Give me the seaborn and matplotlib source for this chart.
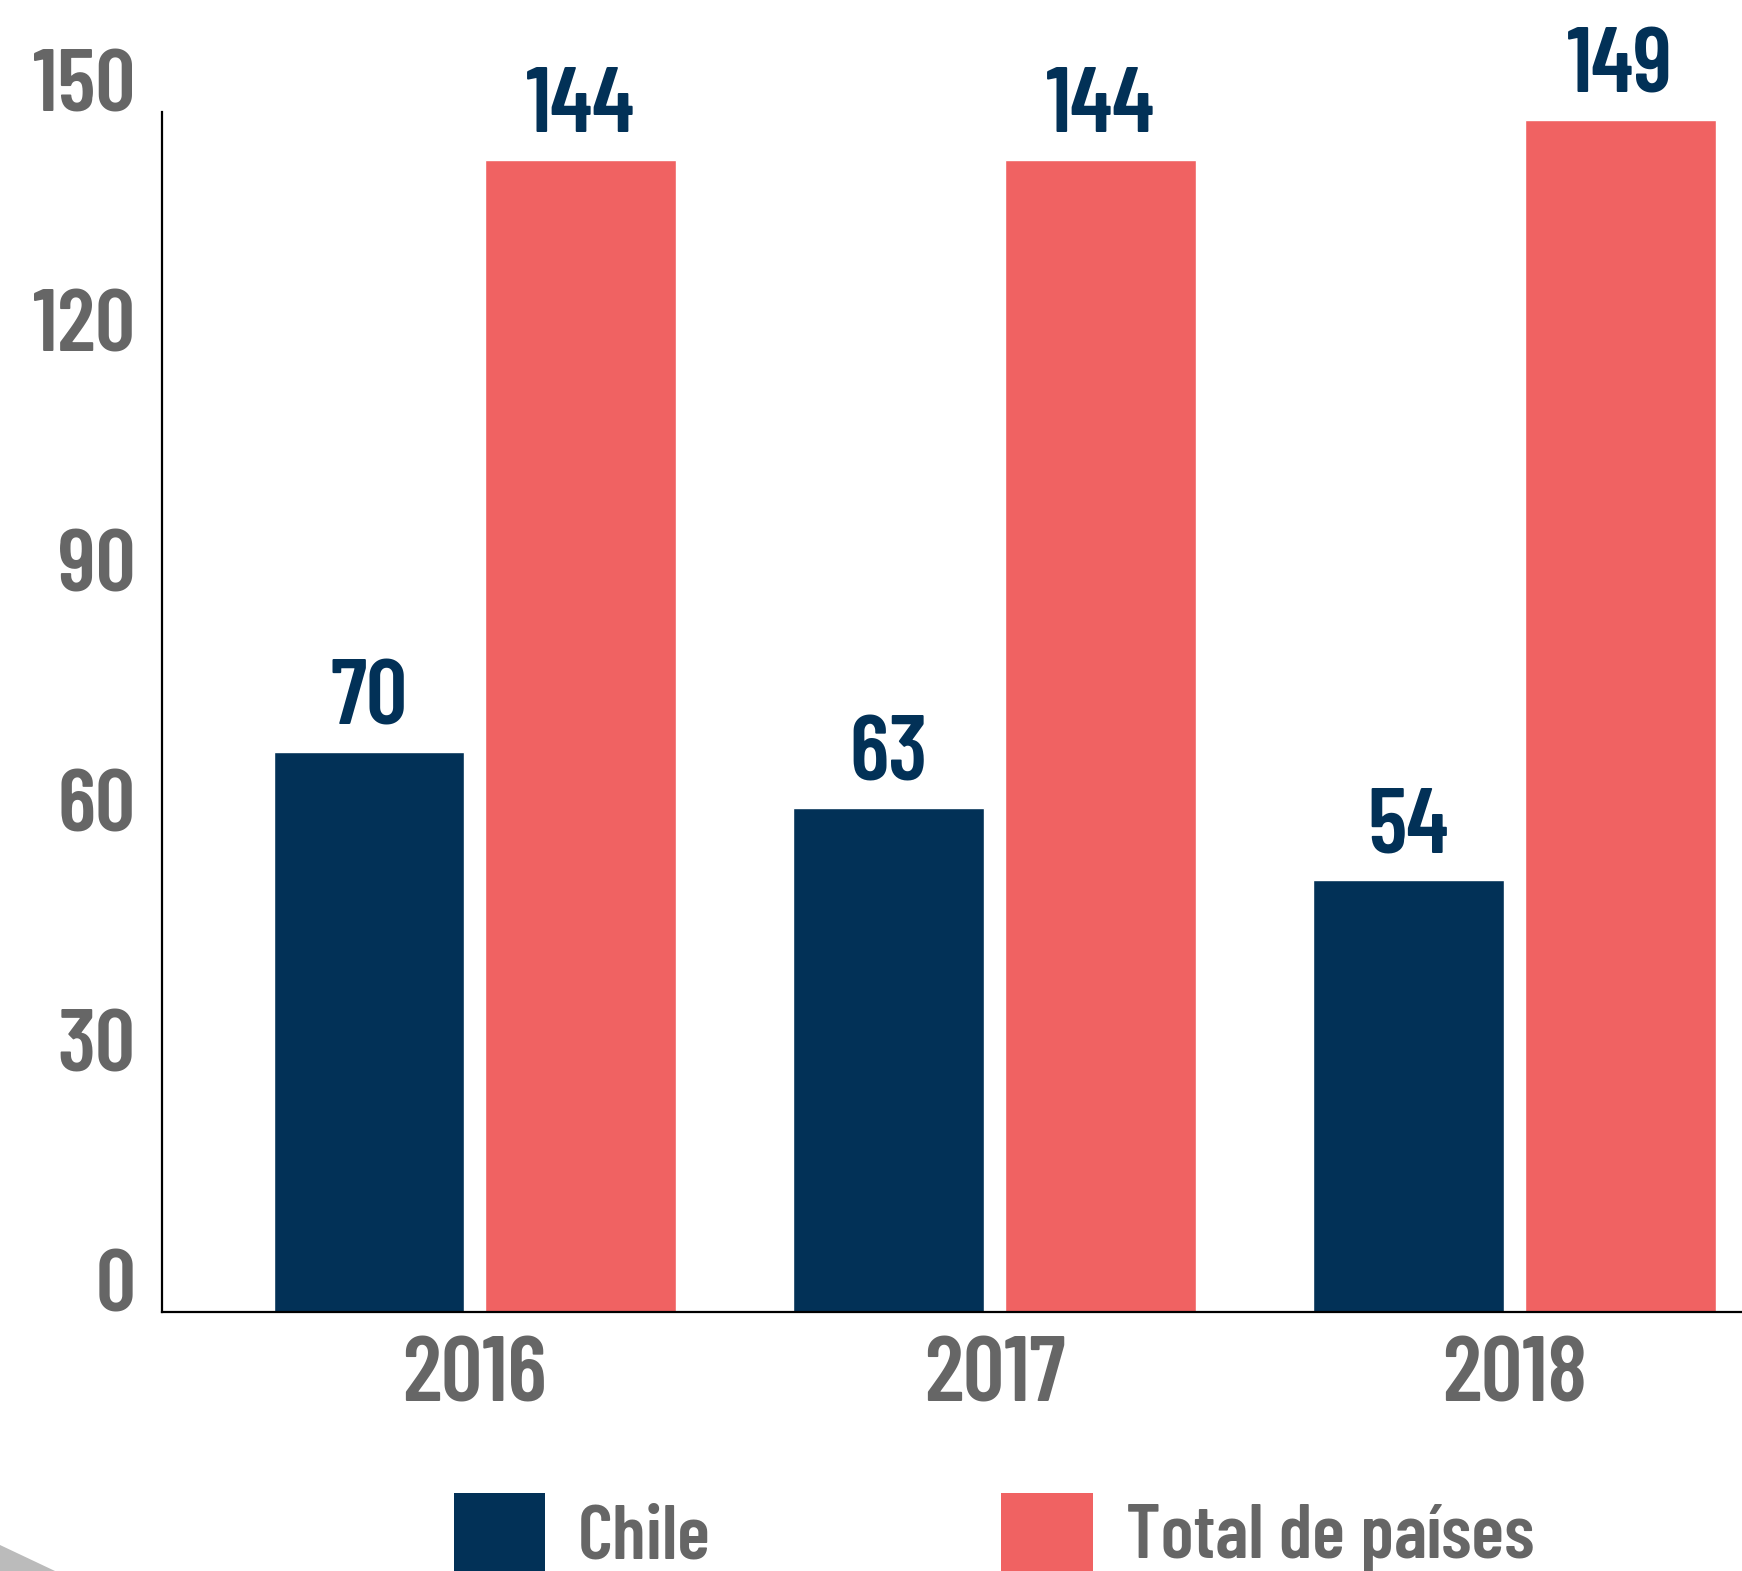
import numpy as np
import pandas as pd
import matplotlib
matplotlib.use("Agg")
import matplotlib.pyplot as plt
from matplotlib.patches import Patch, Polygon
import seaborn as sns

# --- data ---
years = ["2016", "2017", "2018"]
chile = [70, 63, 54]
total = [144, 144, 149]
series_names = ["Chile", "Total de países"]
yticks = [0, 30, 60, 90, 120, 150]

NAVY = "#023157"
RED = "#F06262"
GREY = "#666666"

df = pd.DataFrame({
    "year": years * 2,
    "value": chile + total,
    "serie": [series_names[0]] * 3 + [series_names[1]] * 3,
})

sns.set_theme(style="white")
plt.rcParams["font.family"] = ["Barlow Condensed", "Oswald", "DejaVu Sans"]
plt.rcParams["font.weight"] = 600

fig = plt.figure(figsize=(17.42, 15.71), dpi=100)
ax = fig.add_axes([162/1742, 1 - 1312/1571, 1 - 162/1742, 1312/1571])

sns.barplot(data=df, x="year", y="value", hue="serie", hue_order=series_names,
            palette=[NAVY, RED], saturation=1, width=0.815, gap=0.1,
            legend=False, ax=ax)

ax.set_xlim(-0.602, 2.438)
ax.set_ylim(0, 164)
ax.set_xlabel("")
ax.set_ylabel("")

# value labels above bars
for cont in ax.containers:
    ax.bar_label(cont, fmt="%d", padding=7, fontsize=66, color=NAVY, fontweight=600)

# axes styling
for s in ["top", "right"]:
    ax.spines[s].set_visible(False)
ax.spines["left"].set_bounds(0, 150)
ax.spines["left"].set_linewidth(1.6)
ax.spines["bottom"].set_linewidth(1.6)
ax.spines["left"].set_color("black")
ax.spines["bottom"].set_color("black")

ax.set_yticks(yticks)
ax.tick_params(axis="y", direction="in", length=29, width=1.4, color="black",
               labelsize=64, labelcolor=GREY, pad=19)
for lab in ax.get_yticklabels():
    lab.set_verticalalignment("baseline")
    lab.set_fontweight(600)
ax.tick_params(axis="x", length=0, labelsize=66, labelcolor=GREY, pad=18)
for lab in ax.get_xticklabels():
    lab.set_fontweight(600)

# legend
handles = [Patch(facecolor=NAVY, edgecolor="none"), Patch(facecolor=RED, edgecolor="none")]
leg = fig.legend(handles, series_names, loc="center", bbox_to_anchor=(0.5706, 0.024),
                 ncol=2, frameon=False, fontsize=55, handlelength=1.2, handleheight=1.2,
                 handletextpad=0.43, columnspacing=3.8, borderaxespad=0, borderpad=0)
for t in leg.get_texts():
    t.set_color(GREY)

# decorative grey corner
fig.patches.append(Polygon([[0, 1 - 1545/1571], [55/1742, 0], [0, 0]], closed=True,
                           transform=fig.transFigure, facecolor="#BBBBBB", edgecolor="none"))

fig.savefig("out.png", dpi=100)
